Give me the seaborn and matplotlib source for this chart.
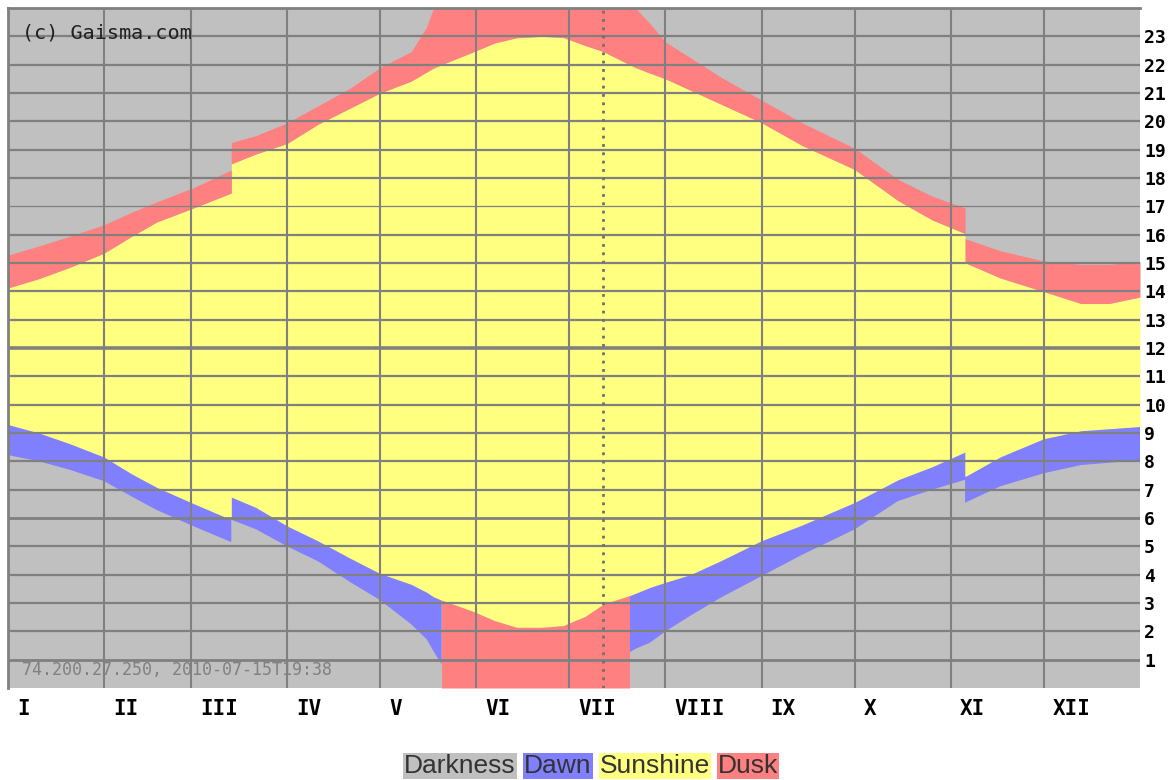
import numpy as np
import pandas as pd
import matplotlib
matplotlib.use("Agg")
import matplotlib.pyplot as plt
import matplotlib.transforms as mtransforms
import seaborn as sns

# day of year and the four boundaries (hours)
days = [0, 10, 20, 31, 40, 48, 60, 72, 72, 80, 90, 100, 110, 120, 130, 135, 137.2, 139.8, 139.8,
        150, 157, 164, 172, 179, 186, 192, 200.4, 200.4, 202.3, 207, 212, 220, 230, 243, 256,
        273, 287, 298, 308.6, 308.6, 320, 334, 346, 355, 365]
dawn_start = [8.22, 8.00, 7.70, 7.30, 6.75, 6.28, 5.70, 5.15, 5.94, 5.60, 5.00, 4.47, 3.76, 3.10,
              2.25, 1.72, 1.30, 0.83, np.nan, np.nan, np.nan, np.nan, np.nan, np.nan, np.nan,
              np.nan, np.nan, 1.26, 1.38, 1.60, 2.00, 2.55, 3.20, 3.95, 4.70, 5.60, 6.60, 7.00,
              7.35, 6.54, 7.12, 7.58, 7.87, 7.95, 8.04]
sunrise = [9.30, 9.00, 8.62, 8.15, 7.55, 7.08, 6.50, 5.94, 6.74, 6.37, 5.72, 5.19, 4.60, 4.04,
           3.66, 3.38, 3.22, 3.10, 3.10, 2.70, 2.37, 2.14, 2.14, 2.20, 2.52, 2.96, 3.26, 3.26,
           3.34, 3.55, 3.73, 4.00, 4.50, 5.20, 5.75, 6.55, 7.35, 7.81, 8.33, 7.46, 8.16, 8.80,
           9.08, 9.15, 9.23]
sunset = [14.12, 14.45, 14.85, 15.35, 15.95, 16.45, 16.95, 17.47, 18.50, 18.85, 19.22, 19.90,
          20.45, 21.00, 21.42, 21.74, 21.88, 22.00, 22.00, 22.45, 22.77, 22.95, 23.00, 22.96,
          22.68, 22.46, 22.00, 22.00, 21.90, 21.70, 21.50, 21.10, 20.60, 19.95, 19.15, 18.30,
          17.20, 16.52, 16.04, 15.01, 14.47, 13.99, 13.57, 13.57, 13.80]
dusk_end = [15.28, 15.60, 15.95, 16.35, 16.80, 17.16, 17.67, 18.28, 19.25, 19.50, 19.95, 20.55,
            21.15, 21.90, 22.46, 23.34, 24.0, 24.0, 24.0, 24.0, 24.0, 24.0, 24.0, 24.0, 24.0,
            24.0, 24.0, 24.0, 24.0, 23.45, 22.80, 22.25, 21.55, 20.75, 19.95, 19.05, 17.95,
            17.36, 16.94, 15.86, 15.43, 15.07, 14.95, 14.95, 15.05]

month_starts = [0, 31, 59, 90, 120, 151, 181, 212, 243, 273, 304, 334]
month_labels = ["I", "II", "III", "IV", "V", "VI", "VII", "VIII", "IX", "X", "XI", "XII"]
hours = list(range(1, 24))
today = 192

legend_names = ["Darkness", "Dawn", "Sunshine", "Dusk"]
colors = {"Darkness": "#c0c0c0", "Dawn": "#8080ff", "Sunshine": "#ffff80", "Dusk": "#ff8080"}
grid_col = "#808080"

df = pd.DataFrame({"day": days, "dawn_start": dawn_start, "sunrise": sunrise,
                   "sunset": sunset, "dusk_end": dusk_end})
# white nights: dusk light all night long below sunrise
df["night_floor"] = np.where(df["dawn_start"].isna(), 0.0, np.nan)

sns.set_theme(style="white")
plt.rcParams["font.family"] = ["DejaVu Sans"]

fig = plt.figure(figsize=(11.71, 7.80), dpi=100)
ax = fig.add_axes([8 / 1171, 92 / 780, 1132 / 1171, 680 / 780])
ax.set_facecolor(colors["Darkness"])

ax.fill_between(df["day"], df["dawn_start"], df["sunrise"], color=colors["Dawn"], lw=0)
ax.fill_between(df["day"], df["sunrise"], df["sunset"], color=colors["Sunshine"], lw=0)
ax.fill_between(df["day"], df["sunset"], df["dusk_end"], color=colors["Dusk"], lw=0)
ax.fill_between(df["day"], df["night_floor"], df["sunrise"], color=colors["Dusk"], lw=0)

# grid
for h in hours:
    if h == 12:
        lw = 2.6
    elif h in (1, 6):
        lw = 2.0
    elif h == 17:
        lw = 0.9
    else:
        lw = 1.6
    ax.axhline(h, color=grid_col, lw=lw, zorder=3)
for m in month_starts[1:]:
    ax.axvline(m, color=grid_col, lw=1.5, zorder=3)
ax.axvline(today, color="#707070", lw=2, ls=(0, (1, 2)), zorder=4)

ax.set_xlim(0, 365)
ax.set_ylim(0, 24)

ax.yaxis.tick_right()
ax.set_yticks(hours)
ax.set_yticklabels([str(h) for h in hours], fontfamily="DejaVu Sans Mono",
                   fontweight="bold", fontsize=13)
ax.tick_params(axis="y", length=0, pad=3, colors="black")

ax.set_xticks(month_starts)
ax.set_xticklabels(month_labels, fontfamily="DejaVu Sans Mono", fontweight="bold",
                   fontsize=15, ha="left")
ax.tick_params(axis="x", length=0, pad=8, colors="black")
offset = mtransforms.ScaledTranslation(0.09, 0, fig.dpi_scale_trans)
for lab in ax.get_xticklabels():
    lab.set_transform(lab.get_transform() + offset)

for side in ["right", "bottom"]:
    ax.spines[side].set_visible(False)
for side in ["top", "left"]:
    ax.spines[side].set_color(grid_col)
    ax.spines[side].set_linewidth(2)

ax.text(0.012, 0.963, "(c) Gaisma.com", transform=ax.transAxes, fontsize=14.5,
        fontfamily="DejaVu Sans Mono", color="#202020", va="center", zorder=5)
ax.text(0.012, 0.026, "74.200.27.250, 2010-07-15T19:38", transform=ax.transAxes,
        fontsize=12, fontfamily="DejaVu Sans Mono", color=grid_col, va="center", zorder=5)

# legend as coloured text boxes
legend_x = [460, 558, 655, 748]
for name, x in zip(legend_names, legend_x):
    fig.text(x / 1171, 1 - 766 / 780, name, ha="center", va="center", fontsize=19,
             fontfamily="Liberation Sans", color="#333333",
             bbox=dict(boxstyle="square,pad=0.04", fc=colors[name], ec="none"))

fig.savefig("out.png", dpi=100)
